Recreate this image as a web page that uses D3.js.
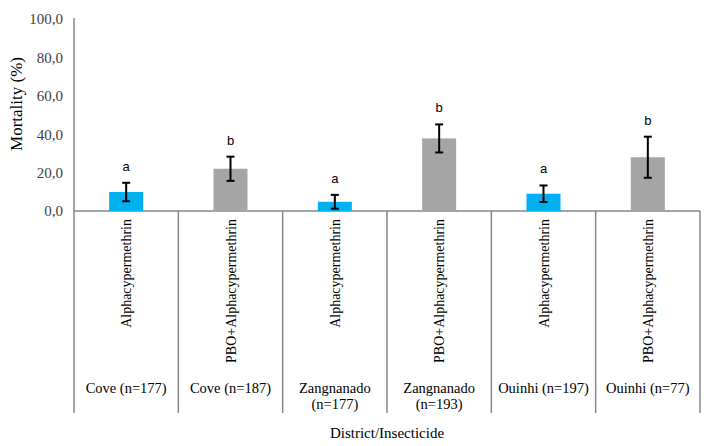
<!DOCTYPE html>
<html><head><meta charset="utf-8">
<script src="https://cdn.jsdelivr.net/npm/d3@7"></script>
<style>body{margin:0;background:#fff}svg{display:block}</style>
</head><body>
<svg id="chart" width="720" height="446"></svg>
<script>
const insecticides = ["Alphacypermethrin","PBO+Alphacypermethrin","Alphacypermethrin","PBO+Alphacypermethrin","Alphacypermethrin","PBO+Alphacypermethrin"];
const districts = [["Cove (n=177)"],["Cove (n=187)"],["Zangnanado","(n=177)"],["Zangnanado","(n=193)"],["Ouinhi (n=197)"],["Ouinhi (n=77)"]];
const mortality = [9.9, 22.0, 4.8, 37.8, 9.0, 28.0];
const errors = [4.8, 6.3, 3.6, 7.3, 4.3, 10.7];
const letters = ["a","b","a","b","a","b"];
const yTicks = [0,20,40,60,80,100];
const barColors = ["#00B0F0","#A5A5A5","#00B0F0","#A5A5A5","#00B0F0","#A5A5A5"];

const svg = d3.select("#chart");
const L = 74, R = 700, T = 19, B = 211, bottomLine = 413;
const idx = d3.range(mortality.length);
const x = d3.scaleBand().domain(idx).range([L, R]).paddingInner(0.674).paddingOuter(0.337);
const xs = d3.scaleBand().domain(idx).range([L, R]).padding(0);
const y = d3.scaleLinear().domain([0,100]).range([B, T]);
const axisColor = "#868686";
const serif = "'Liberation Serif','Times New Roman',serif";

const yAxis = d3.axisLeft(y).tickValues(yTicks).tickSize(0).tickPadding(11)
  .tickFormat(d => d3.format(".1f")(d).replace(".", ","));
const ya = svg.append("g").attr("transform", `translate(${L},0)`).call(yAxis);
ya.select(".domain").remove();
ya.selectAll("text").attr("font-family", serif).attr("font-size", 15).attr("fill", "#404040");

svg.append("line").attr("x1", L).attr("x2", L).attr("y1", T-1).attr("y2", bottomLine)
  .attr("stroke", axisColor).attr("stroke-width", 1.5);
svg.append("line").attr("x1", L).attr("x2", R).attr("y1", B).attr("y2", B)
  .attr("stroke", axisColor).attr("stroke-width", 1.5);
idx.forEach(i => {
  const xr = xs(i) + xs.bandwidth();
  svg.append("line").attr("x1", xr).attr("x2", xr).attr("y1", B).attr("y2", bottomLine)
    .attr("stroke", axisColor).attr("stroke-width", 1.5);
});

svg.selectAll("rect.bar").data(idx).join("rect").attr("class","bar")
  .attr("x", i => x(i)).attr("width", x.bandwidth())
  .attr("y", i => y(mortality[i])).attr("height", i => B - y(mortality[i]))
  .attr("fill", i => barColors[i]);

const eg = svg.append("g").attr("stroke", "#000").attr("stroke-width", 2);
idx.forEach(i => {
  const cx = x(i) + x.bandwidth()/2;
  const top = y(mortality[i] + errors[i]), bot = y(mortality[i] - errors[i]);
  eg.append("line").attr("x1", cx).attr("x2", cx).attr("y1", top).attr("y2", bot);
  eg.append("line").attr("x1", cx-4).attr("x2", cx+4).attr("y1", top).attr("y2", top);
  eg.append("line").attr("x1", cx-4).attr("x2", cx+4).attr("y1", bot).attr("y2", bot);
  svg.append("text").attr("x", cx).attr("y", top - 12).attr("text-anchor", "middle")
    .attr("font-family", "'Liberation Sans',Arial,sans-serif").attr("font-size", 13)
    .attr("fill", "#000").text(letters[i]);
});

idx.forEach(i => {
  const cx = xs(i) + xs.bandwidth()/2;
  svg.append("text").attr("transform", `translate(${cx + 5},219) rotate(-90)`)
    .attr("text-anchor", "end").attr("font-family", serif).attr("font-size", 14)
    .attr("fill", "#000").text(insecticides[i]);
  districts[i].forEach((ln, k) => {
    svg.append("text").attr("x", cx).attr("y", 393 + k*16).attr("text-anchor", "middle")
      .attr("font-family", serif).attr("font-size", 14.5).attr("fill", "#000").text(ln);
  });
});

svg.append("text").attr("x", (L+R)/2).attr("y", 438).attr("text-anchor", "middle")
  .attr("font-family", serif).attr("font-size", 15).attr("fill", "#000").text("District/Insecticide");
svg.append("text").attr("transform", "translate(22,104) rotate(-90)").attr("text-anchor", "middle")
  .attr("font-family", serif).attr("font-size", 17).attr("fill", "#000").text("Mortality (%)");
</script>
</body></html>
